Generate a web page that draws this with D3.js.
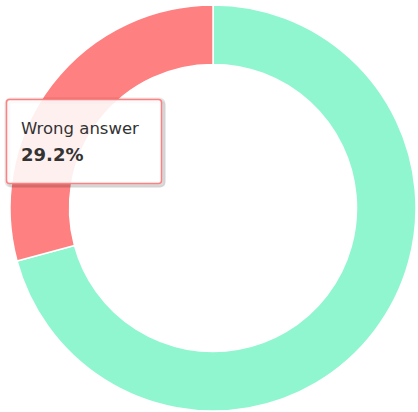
<!doctype html>
<html>
<head>
    <meta http-equiv="Content-type" content="text/html; charset=utf-8"/>
    <script src="https://d3js.org/d3.v7.min.js"></script>
    <style>
        body { margin: 0; background: #fff; }
        svg { display: block; }
        .tip-label { font-family: "DejaVu Sans", Verdana, sans-serif; font-size: 16.5px; fill: #333; }
        .tip-value { font-family: "DejaVu Sans", Verdana, sans-serif; font-size: 18px; font-weight: bold; fill: #333; }
    </style>
</head>
<body>
    <svg width="418" height="412"></svg>

    <script>
        var categories = ["Correct answer", "Wrong answer"];
        var values = [70.8, 29.2];
        var colors = ["#8ff6d0", "#ff8080"];
        var tipIndex = 1;

        var svg = d3.select("svg");
        var cx = 213, cy = 208;

        var pie = d3.pie().sort(null).value(function(d) { return d; });
        var arc = d3.arc().innerRadius(143.5).outerRadius(203);

        var g = svg.append("g").attr("transform", "translate(" + cx + "," + cy + ")");

        g.selectAll("path")
            .data(pie(values))
            .enter()
            .append("path")
            .attr("d", arc)
            .attr("fill", function(d, i) { return colors[i]; })
            .attr("stroke", "#fff")
            .attr("stroke-width", 1.5)
            .attr("stroke-linejoin", "round");

        // tooltip
        var tip = svg.append("g").attr("transform", "translate(6.5,99.5)");
        var w = 155, h = 84;

        // soft shadow
        [3, 2, 1].forEach(function(o, k) {
            tip.append("rect")
                .attr("x", o).attr("y", o)
                .attr("width", w).attr("height", h)
                .attr("rx", 3)
                .attr("fill", "none")
                .attr("stroke", "#000")
                .attr("stroke-opacity", 0.03 * (k + 1))
                .attr("stroke-width", 2 * (4 - o));
        });

        tip.append("rect")
            .attr("width", w).attr("height", h)
            .attr("rx", 3)
            .attr("fill", "rgba(255,255,255,0.88)")
            .attr("stroke", colors[tipIndex])
            .attr("stroke-width", 1.5);

        tip.append("text")
            .attr("class", "tip-label")
            .attr("x", 14.5).attr("y", 34.5)
            .text(categories[tipIndex]);

        tip.append("text")
            .attr("class", "tip-value")
            .attr("x", 14.5).attr("y", 61.5)
            .text(values[tipIndex].toFixed(1) + "%");
    </script>
</body>
</html>
